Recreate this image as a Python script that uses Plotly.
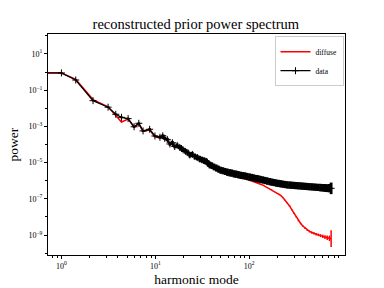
import plotly.graph_objects as go

# harmonic modes (first entry stands in for k=0, clipped at the left edge as in the reference)
k = [0.3, 1.0, 1.42, 2.17, 3.14, 3.79, 4.36, 5.13, 5.94, 6.67, 7.4, 8.7, 9.9, 11.2,
     12.0, 12.6, 13.4, 14.3, 15.2, 16.1, 17.1, 18.2, 19.0, 19.8, 21.0, 22.2, 23.3, 24.8,
     26.4, 28.0, 29.8, 31.5, 33.3, 35.1, 36.6, 38.1,
     40, 42.2, 44.6, 47.1, 49.7, 52.5, 55.4, 58.5, 61.8, 65.2, 68.9, 72.7, 76.8, 81.1,
     85.6, 90.4, 95.4, 101, 106, 112, 119, 125, 132, 140, 148, 156, 165, 174, 184, 194,
     205, 216, 228, 241, 254, 269, 284, 300, 316, 334, 353, 372, 393, 415, 438, 463, 489,
     516, 545, 575, 607, 641, 677, 715, 745]

# log10 of the measured power ("data")
data_log = [-0.05, -0.05, -0.44, -1.58, -1.94, -2.33, -2.50, -2.57, -3.02, -2.83, -3.25, -3.16, -3.53, -3.60,
            -3.52, -3.66, -3.72, -3.97, -3.90, -4.11, -4.05, -4.16, -4.22, -4.30, -4.38, -4.45, -4.58, -4.55,
            -4.67, -4.72, -4.80, -4.85, -4.90, -4.95, -5.05, -5.13,
            -5.17, -5.24, -5.30, -5.36, -5.42, -5.45, -5.49, -5.53, -5.56, -5.58, -5.62, -5.64, -5.67, -5.70,
            -5.72, -5.74, -5.77, -5.80, -5.82, -5.85, -5.88, -5.90, -5.93, -5.96, -5.99, -6.02, -6.05, -6.08, -6.10, -6.13,
            -6.15, -6.17, -6.19, -6.21, -6.23, -6.24, -6.25, -6.26, -6.27, -6.28, -6.29, -6.30, -6.31, -6.32, -6.33, -6.34, -6.35,
            -6.36, -6.37, -6.38, -6.39, -6.40, -6.41, -6.41, -6.42]

# error (dex) of the data points
data_err = [0.02, 0.02, 0.03, 0.03, 0.04, 0.04, 0.05, 0.05, 0.05, 0.05, 0.06, 0.06, 0.06, 0.07,
            0.08, 0.08, 0.09, 0.09, 0.10, 0.10, 0.11, 0.11, 0.12, 0.12, 0.13, 0.13, 0.14, 0.14,
            0.15, 0.15, 0.16, 0.16, 0.17, 0.17, 0.18, 0.18,
            0.18, 0.18, 0.19, 0.19, 0.19, 0.19, 0.19, 0.20, 0.20, 0.20, 0.20, 0.20, 0.20, 0.20,
            0.20, 0.20, 0.20, 0.20, 0.20, 0.20, 0.20, 0.20, 0.20, 0.20, 0.20, 0.20, 0.20, 0.20, 0.20, 0.20,
            0.20, 0.20, 0.20, 0.20, 0.20, 0.20, 0.20, 0.20, 0.20, 0.20, 0.20, 0.20, 0.20, 0.20, 0.20, 0.20, 0.20,
            0.20, 0.20, 0.21, 0.21, 0.22, 0.22, 0.23, 0.32]

# log10 of the reconstructed diffuse power
diffuse_log = [-0.05, -0.05, -0.40, -1.52, -1.92, -2.38, -2.76, -2.60, -3.05, -2.86, -3.28, -3.20, -3.58, -3.64,
               -3.58, -3.72, -3.78, -4.03, -3.96, -4.16, -4.12, -4.22, -4.28, -4.36, -4.43, -4.50, -4.64, -4.60,
               -4.72, -4.77, -4.85, -4.90, -4.95, -5.01, -5.10, -5.17,
               -5.22, -5.30, -5.40, -5.45, -5.49, -5.53, -5.57, -5.61, -5.64, -5.67, -5.71, -5.74, -5.78, -5.81,
               -5.84, -5.88, -5.92, -5.95, -5.99, -6.03, -6.08, -6.13, -6.19, -6.24, -6.31, -6.37, -6.44, -6.50, -6.58, -6.64,
               -6.71, -6.81, -6.93, -7.07, -7.22, -7.39, -7.60, -7.80, -8.00, -8.20, -8.36, -8.50, -8.62, -8.72, -8.80, -8.86, -8.91,
               -8.95, -8.99, -9.03, -9.07, -9.11, -9.15, -9.18, -9.20]

# error (dex) of the diffuse power
diffuse_err = [0.01] * 36 + [0.01] * 30 + [0.02, 0.02, 0.02, 0.02, 0.02, 0.03, 0.03, 0.03, 0.03, 0.04,
                                           0.04, 0.04, 0.05, 0.05, 0.05, 0.06, 0.06, 0.07, 0.07, 0.08,
                                           0.09, 0.10, 0.12, 0.15, 0.46]

yticks = [1e1, 1e-1, 1e-3, 1e-5, 1e-7, 1e-9]
yticktext = ["10<sup>1</sup>", "10<sup>\u22121</sup>", "10<sup>\u22123</sup>",
             "10<sup>\u22125</sup>", "10<sup>\u22127</sup>", "10<sup>\u22129</sup>"]
xticks = [1, 10, 100]
xticktext = ["10<sup>0</sup>", "10<sup>1</sup>", "10<sup>2</sup>"]


def lin(vals):
    return [10 ** v for v in vals]


def errs(vals, e):
    up = [10 ** v * (10 ** d - 1) for v, d in zip(vals, e)]
    dn = [10 ** v * (1 - 10 ** (-d)) for v, d in zip(vals, e)]
    return up, dn


SERIF = "Liberation Serif, DejaVu Serif, serif"

d_up, d_dn = errs(data_log, data_err)
r_up, r_dn = errs(diffuse_log, diffuse_err)

fig = go.Figure()
fig.add_trace(go.Scatter(
    x=k, y=lin(diffuse_log), mode="lines", name="diffuse",
    line=dict(color="#ff0000", width=1.5),
    error_y=dict(type="data", symmetric=False, array=r_up, arrayminus=r_dn,
                 color="#ff0000", thickness=1.5, width=0),
))
fig.add_trace(go.Scatter(
    x=k, y=lin(data_log), mode="lines+markers", name="data",
    line=dict(color="black", width=1.3),
    marker=dict(symbol="cross-thin", size=5, color="black", line=dict(color="black", width=1)),
    error_y=dict(type="data", symmetric=False, array=d_up, arrayminus=d_dn,
                 color="black", thickness=2.8, width=0),
))

xminor = [m * 10 ** e for e in (-1, 0, 1, 2) for m in range(2, 10)]
yminor = [10.0 ** e for e in (2, 0, -2, -4, -6, -8, -10)]

fig.update_layout(
    width=384, height=288,
    margin=dict(l=48, r=39, t=34, b=33, autoexpand=False),
    paper_bgcolor="white", plot_bgcolor="white",
    font=dict(family=SERIF, color="black"),
    title=dict(text="reconstructed prior power spectrum", x=0.51, xanchor="center",
               y=1 - 24 / 288, yanchor="middle", font=dict(size=14.5, family=SERIF)),
    showlegend=True,
    legend=dict(x=0.995, xanchor="right", y=0.99, yanchor="top",
                bgcolor="rgba(255,255,255,0.8)", bordercolor="#cccccc", borderwidth=1,
                font=dict(size=7.5, family=SERIF, color="black"), itemwidth=30, tracegroupgap=0),
)
fig.update_xaxes(
    type="log", range=[-0.143, 3.02], showgrid=False, zeroline=False,
    showline=True, linecolor="black", linewidth=1, mirror=True,
    ticks="outside", ticklen=3, tickcolor="black",
    tickvals=xticks, ticktext=xticktext, tickfont=dict(size=8, family=SERIF),
    minor=dict(tickvals=xminor, ticks="outside", ticklen=2, tickcolor="black", showgrid=False),
    title=dict(text="harmonic mode", font=dict(size=13.5, family=SERIF), standoff=4),
    automargin=False,
)
fig.update_yaxes(
    type="log", range=[-10.1, 2.1], showgrid=False, zeroline=False,
    showline=True, linecolor="black", linewidth=1, mirror=True,
    ticks="outside", ticklen=3, tickcolor="black",
    tickvals=yticks, ticktext=yticktext, tickfont=dict(size=8, family=SERIF),
    minor=dict(tickvals=yminor, ticks="outside", ticklen=2, tickcolor="black", showgrid=False),
    title=dict(text="power", font=dict(size=13.5, family=SERIF), standoff=6),
    automargin=False,
)

fig.write_html("out.html", config={"displayModeBar": False},
               post_script="document.body.style.margin='0';")
